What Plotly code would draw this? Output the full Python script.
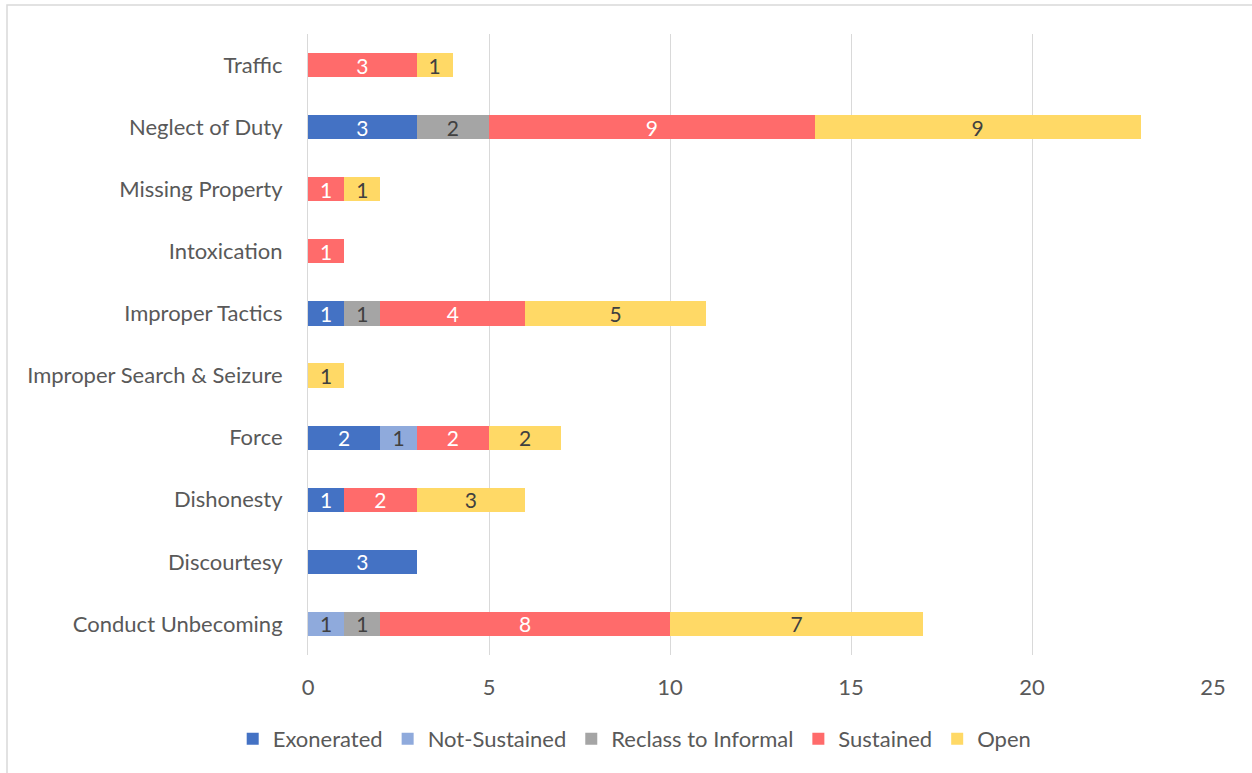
import plotly.graph_objects as go

categories = [
    "Conduct Unbecoming", "Discourtesy", "Dishonesty", "Force",
    "Improper Search & Seizure", "Improper Tactics", "Intoxication",
    "Missing Property", "Neglect of Duty", "Traffic",
]

exonerated = [None, 3, 1, 2, None, 1, None, None, 3, None]
not_sustained = [1, None, None, 1, None, None, None, None, None, None]
reclass_informal = [1, None, None, None, None, 1, None, None, 2, None]
sustained = [8, None, 2, 2, None, 4, 1, 1, 9, 3]
open_cases = [7, None, 3, 2, 1, 5, None, 1, 9, 1]

series = [
    ("Exonerated", exonerated, "#4472C4", "white"),
    ("Not-Sustained", not_sustained, "#8FAADC", "#404040"),
    ("Reclass to Informal", reclass_informal, "#A5A5A5", "#404040"),
    ("Sustained", sustained, "#FF6B6B", "white"),
    ("Open", open_cases, "#FFD966", "#404040"),
]

FONT = "Lato, Calibri, Carlito, sans-serif"
SIZE = 22

fig = go.Figure()
for name, values, color, text_color in series:
    fig.add_trace(go.Bar(
        name=name,
        y=categories,
        x=values,
        orientation="h",
        marker=dict(color=color, line=dict(width=0)),
        text=[str(v) if v else "" for v in values],
        textposition="inside",
        insidetextanchor="middle",
        textangle=0,
        textfont=dict(family=FONT, size=21, color=text_color),
        width=0.39,
        hoverinfo="skip",
    ))

fig.update_layout(
    barmode="stack",
    width=1252,
    height=773,
    margin=dict(l=308, r=39, t=34, b=118),
    paper_bgcolor="white",
    plot_bgcolor="white",
    font=dict(family=FONT, size=SIZE, color="#595959"),
    uniformtext=dict(minsize=21, mode="show"),
    showlegend=True,
    legend=dict(
        orientation="h",
        x=0.361, xanchor="center",
        y=-0.135, yanchor="middle",
        font=dict(family=FONT, size=SIZE, color="#595959"),
        itemclick=False,
        traceorder="normal",
        itemwidth=30,
    ),
    xaxis=dict(
        range=[0, 25],
        tickvals=[0, 5, 10, 15, 20, 25],
        showgrid=True,
        gridcolor="#D9D9D9",
        gridwidth=1,
        zeroline=False,
        showline=False,
        ticks="",
        ticklabelstandoff=17,
        tickfont=dict(family=FONT, size=SIZE, color="#595959"),
    ),
    yaxis=dict(
        categoryorder="array",
        categoryarray=categories,
        range=[-0.5, 9.5],
        showgrid=False,
        showline=True,
        linecolor="#D9D9D9",
        linewidth=1,
        ticks="",
        ticklabelstandoff=20,
        tickfont=dict(family=FONT, size=SIZE, color="#595959"),
    ),
    shapes=[dict(
        type="rect",
        xref="paper", yref="paper",
        x0=-0.3326, x1=1.2, y0=-0.4, y1=1.0467,
        line=dict(color="#D9D9D9", width=1.5),
        fillcolor="rgba(0,0,0,0)",
        layer="below",
    )],
)

fig.write_html("out.html")
